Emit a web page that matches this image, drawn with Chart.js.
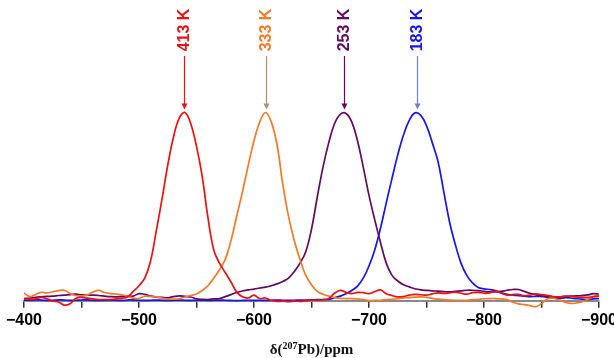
<!DOCTYPE html>
<html>
<head>
<meta charset="utf-8">
<script src="https://cdn.jsdelivr.net/npm/chart.js@4.4.1/dist/chart.umd.min.js"></script>
<style>
  html, body { margin: 0; padding: 0; background: #fff; }
  #wrap { width: 614px; height: 358px; }
</style>
</head>
<body>
<div id="wrap"><canvas id="myChartNmr" width="614" height="358"></canvas></div>
<script>
// chemical shift grid (ppm)
var shifts = [
  -400, -405, -410, -415, -420, -425, -430, -435, -440, -445,
  -450, -455, -460, -465, -470, -475, -480, -485, -490, -495,
  -500, -505, -510, -515, -520, -525, -530, -535, -540, -545,
  -550, -555, -560, -565, -570, -575, -580, -585, -590, -595,
  -600, -605, -610, -615, -620, -625, -630, -635, -640, -645,
  -650, -655, -660, -665, -670, -675, -680, -685, -690, -695,
  -700, -705, -710, -715, -720, -725, -730, -735, -740, -745,
  -750, -755, -760, -765, -770, -775, -780, -785, -790, -795,
  -800, -805, -810, -815, -820, -825, -830, -835, -840, -845,
  -850, -855, -860, -865, -870, -875, -880, -885, -890, -895,
  -900
];

// intensities (peak = 100)
var spec413 = [
  1.2, 0.9, 1.0, 1.8, 1.0, -0.1, -0.6, -2.3, -1.6, 1.2,
  1.8, 1.4, 1.0, 0.7, 0.7, 0.7, 1.0, 1.4, 2.0, 5.0,
  8.0, 12, 21, 37, 54, 72, 87, 97, 100, 94,
  82, 66, 44, 27, 20, 15, 10, 4.6, 2.1, 1.5,
  3.0, 1.2, 1.5, 0.2, -0.3, -0.2, -0.4, -0.2, -0.3, 0,
  0.3, 0.3, 0.5, 1.2, 4.0, 5.5, 4.5, 3.8, 4.5, 4.3,
  3.8, 4.8, 5.8, 3.8, 2.8, 2.1, 2.3, 3.0, 3.4, 3.2,
  3.0, 3.7, 4.2, 3.9, 4.2, 4.6, 4.0, 3.5, 4.3, 4.5,
  4.0, 4.2, 5.1, 4.0, 3.0, 3.3, 3.4, 2.7, 3.0, 3.7,
  3.3, 2.9, 2.3, 2.1, 2.4, 2.4, 2.1, 1.9, 1.8, 2.2,
  2.5
];
var spec333 = [
  4.2, 2.2, 3.3, 4.5, 4.2, 4.8, 5.4, 5.6, 3.9, 2.8,
  2.5, 3.0, 4.6, 5.5, 4.4, 3.8, 3.6, 3.2, 2.4, 1.4,
  1.3, 2.4, 2.3, 2.1, 1.4, 0.9, 0.9, 1.1, 2.0, 2.8,
  3.6, 5.5, 8, 12, 16.5, 22, 32, 45, 58, 72,
  85, 95, 100, 95, 83, 62, 45, 32, 22, 13.5,
  8.5, 5, 3.5, 2.5, 1.7, 1.3, 1.2, 1.2, 1.0, 0.7,
  0.1, 0.2, 0.3, 0.6, 0.8, 1.1, 1.5, 1.7, 1.9, 2.1,
  1.8, 1.3, 0.9, 0.6, 0.4, 0.3, 0.3, 0.3, 0.6, 0.8,
  1.1, 1.2, 1.2, 1.0, 0.6, -0.8, -1.6, -2.0, -2.6, -3.1,
  -1.5, 1.0, 1.4, 0.5, -0.6, -1.4, -1.2, -0.6, 0.7, 2.2,
  3.0
];
var spec253 = [
  1.2, 1.5, 1.9, 2.1, 2.3, 2.5, 2.8, 3.0, 3.3, 3.5,
  3.2, 3.0, 3.0, 2.8, 2.5, 2.2, 2.1, 2.4, 2.5, 2.5,
  3.8, 3.4, 2.6, 2.0, 1.8, 1.6, 2.2, 2.6, 2.3, 2.0,
  1.0, 0.8, 0.7, 1.0, 1.2, 2.2, 3.3, 4.4, 5.2, 5.8,
  6.2, 6.8, 7.3, 8.0, 9.0, 10.3, 12, 15.5, 20, 26,
  38, 55, 71, 84, 94, 99, 99.5, 95, 85, 71,
  56, 43, 31, 20, 13.5, 10.5, 8.5, 7.4, 6.4, 5.8,
  5.5, 5.3, 5.1, 4.9, 4.7, 5.0, 5.3, 5.6, 5.6, 5.4,
  5.0, 4.7, 4.7, 5.0, 5.6, 6.0, 6.0, 5.0, 4.0, 3.3,
  2.6, 2.2, 1.8, 2.0, 2.3, 2.5, 2.6, 2.8, 3.1, 3.8,
  3.5
];
var spec183 = [
  0.4, 0.3, 0.5, 0.4, 0.2, 0.3, 0.5, 0.4, 0.2, 0.3,
  0.4, 0.5, 0.3, 0.2, 0.3, 0.4, 0.3, 0.2, 0.4, 0.5,
  0.3, 0.2, 0.3, 0.4, 0.3, 0.2, 0.3, 0.4, 0.3, 0.2,
  0.3, 0.4, 0.2, 0.3, 0.4, 0.3, 0.2, 0.1, 0.2, 0.3,
  0.2, 0.3, 0.2, 0.3, 0.4, 0.3, 0.2, 0.3, 0.4, 0.4,
  0.5, 0.6, 0.7, 0.8, 1.6, 2.5, 3.7, 5.5, 7.8, 12,
  18.5, 27, 38.5, 52, 65, 77.5, 88, 95.8, 99.8, 98.5,
  93, 84, 74, 58, 42, 30, 20, 13.5, 9.5, 7,
  6.3, 6.0, 5.4, 4.2, 3.4, 3.0, 2.7, 2.5, 2.2, 2.4,
  2.2, 2.0, 1.5, 1.3, 1.6, 1.5, 1.2, 0.9, 0.7, 1.0,
  1.2
];

// peak labels
var tempLabels = ["413 K", "333 K", "253 K", "183 K"];
var peakShifts = [-539, -610, -678, -742];
var peakHeights = [100, 100, 100, 100];

var lineColors = ["#ee1111", "#f47a28", "#620a62", "#1515ee"];
var arrowColors = ["#ee1111", "#b88a6e", "#620a62", "#7080cc"];

function toPoints(values) {
  return shifts.map(function (s, i) {
    return { x: s, y: values[i] };
  });
}

// arrows + rotated temperature labels
var peakLabels = {
  id: "peakLabels",
  afterDatasetsDraw: function (chart) {
    var ctx = chart.ctx;
    var xs = chart.scales.x;
    var ys = chart.scales.y;
    var top = chart.chartArea.top;
    tempLabels.forEach(function (txt, i) {
      var px = Math.round(xs.getPixelForValue(peakShifts[i])) + 0.5;
      var tip = ys.getPixelForValue(peakHeights[i]) - 3;
      ctx.save();
      ctx.strokeStyle = arrowColors[i];
      ctx.fillStyle = arrowColors[i];
      ctx.lineWidth = 1.2;
      ctx.beginPath();
      ctx.moveTo(px, top);
      ctx.lineTo(px, tip - 4);
      ctx.stroke();
      ctx.beginPath();
      ctx.moveTo(px, tip);
      ctx.lineTo(px - 3, tip - 6);
      ctx.lineTo(px + 3, tip - 6);
      ctx.closePath();
      ctx.fill();
      ctx.restore();

      ctx.save();
      ctx.translate(px, top - 26);
      ctx.rotate(-Math.PI / 2);
      ctx.fillStyle = lineColors[i];
      ctx.font = "bold 16px 'Liberation Sans', Arial, sans-serif";
      ctx.textAlign = "center";
      ctx.textBaseline = "middle";
      ctx.fillText(txt, 0, 0);
      ctx.restore();
    });
  }
};

// axis title with superscript
var axisTitle = {
  id: "axisTitle",
  afterDraw: function (chart) {
    var ctx = chart.ctx;
    var area = chart.chartArea;
    var big = "bold 15px 'Liberation Serif', 'Times New Roman', serif";
    var small = "bold 10px 'Liberation Serif', 'Times New Roman', serif";
    var parts = [["δ(", big, 0], ["207", small, -5], ["Pb)/ppm", big, 0]];
    ctx.save();
    ctx.fillStyle = "#111";
    ctx.textBaseline = "alphabetic";
    var w = 0;
    parts.forEach(function (p) {
      ctx.font = p[1];
      w += ctx.measureText(p[0]).width;
    });
    var x = (area.left + area.right) / 2 - w / 2;
    var y = 354;
    parts.forEach(function (p) {
      ctx.font = p[1];
      ctx.fillText(p[0], x, y + p[2]);
      x += ctx.measureText(p[0]).width;
    });
    ctx.restore();
  }
};

const ctxNmr = document.getElementById("myChartNmr").getContext("2d");

const myChartNmr = new Chart(ctxNmr, {
  type: "line",
  data: {
    datasets: [
      { label: "413 K", data: toPoints(spec413), borderColor: lineColors[0] },
      { label: "333 K", data: toPoints(spec333), borderColor: lineColors[1] },
      { label: "253 K", data: toPoints(spec253), borderColor: lineColors[2] },
      { label: "183 K", data: toPoints(spec183), borderColor: lineColors[3] }
    ].map(function (d) {
      d.borderWidth = 1.7;
      d.pointRadius = 0;
      d.tension = 0.4;
      d.fill = false;
      d.clip = false;
      return d;
    })
  },
  options: {
    responsive: false,
    animation: false,
    layout: { padding: { left: 24, right: 15, top: 56, bottom: 25 } },
    plugins: {
      legend: { display: false },
      tooltip: { enabled: false }
    },
    scales: {
      x: {
        type: "linear",
        min: -900,
        max: -400,
        reverse: true,
        afterFit: function (s) {
          s.paddingLeft = 0;
          s.paddingRight = 0;
        },
        border: { color: "#8a8a8a", width: 2 },
        grid: {
          drawOnChartArea: false,
          drawTicks: true,
          tickLength: 7,
          color: "#333",
          lineWidth: 1.5
        },
        ticks: {
          stepSize: 50,
          autoSkip: false,
          maxRotation: 0,
          padding: 3,
          color: "#000",
          font: { family: "'Liberation Sans', Arial, sans-serif", size: 16, weight: "bold" },
          callback: function (v) {
            if (v % 100 !== 0) return "";
            return "\u2212" + Math.abs(v);
          }
        }
      },
      y: {
        display: false,
        min: 0,
        max: 130
      }
    }
  },
  plugins: [peakLabels, axisTitle]
});
</script>
</body>
</html>
